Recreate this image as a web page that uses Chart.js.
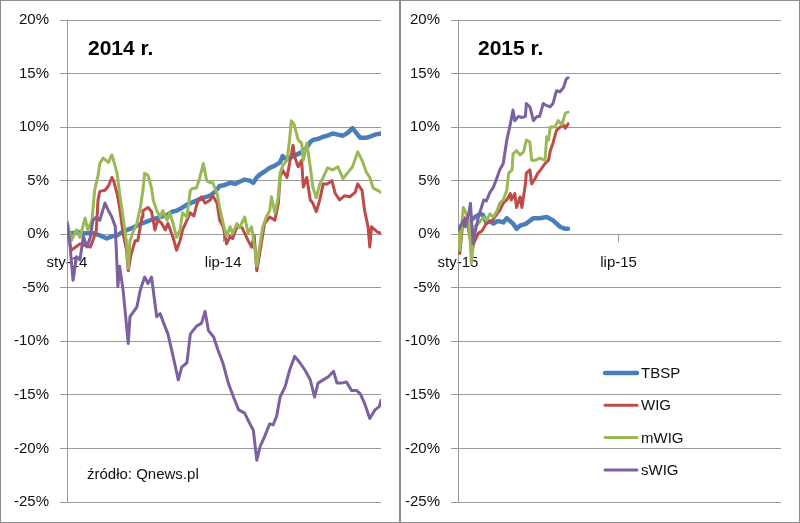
<!DOCTYPE html>
<html><head><meta charset="utf-8">
<script src="https://cdn.jsdelivr.net/npm/chart.js@4.4.1/dist/chart.umd.min.js"></script>
<style>
html,body{margin:0;padding:0;background:#fff;}
#wrap{position:relative;width:800px;height:523px;overflow:hidden;background:#fff;}
canvas{position:absolute;top:0;}
.frame{position:absolute;top:0;height:523px;border:1px solid #8c8c8c;box-sizing:border-box;pointer-events:none;}
</style></head><body>
<div id="wrap">
<canvas id="c1" width="400" height="523" style="left:0"></canvas>
<canvas id="c2" width="400" height="523" style="left:400px"></canvas>
<div class="frame" style="left:0;width:400px"></div>
<div class="frame" style="left:400px;width:400px"></div>
</div>
<script>
// ---- DATA (x = day of year, y = % change since start of year) ----
const seriesNames = ['TBSP', 'WIG', 'mWIG', 'sWIG'];
const panelTitles = ['2014 r.', '2015 r.'];
const sourceText = 'źródło: Qnews.pl';
const xTickDays = [0, 181];
const xTickLabels2014 = ['sty-14', 'lip-14'];
const xTickLabels2015 = ['sty-15', 'lip-15'];
const yMin = -25, yMax = 20, yStep = 5;

const tbsp2014 = [[0,-0.2],[6,0.1],[12,0.2],[20,0.1],[30,0.1],[38,-0.1],[46,-0.4],[52,-0.2],[58,-0.1],[64,0.2],[70,0.4],[76,0.6],[81,0.8],[87,1.0],[93,1.2],[100,1.4],[108,1.6],[116,1.8],[122,2.1],[127,2.2],[134,2.5],[140,2.8],[146,3.0],[152,3.2],[158,3.4],[166,3.6],[172,4.0],[177,4.5],[183,4.6],[189,4.8],[195,4.7],[200,4.9],[206,5.1],[212,5.0],[216,4.8],[220,5.3],[224,5.6],[230,5.9],[235,6.2],[241,6.4],[247,6.7],[250,7.3],[254,7.0],[258,7.1],[263,7.3],[268,7.5],[273,7.7],[278,8.1],[282,8.6],[285,8.8],[291,8.9],[297,9.1],[302,9.2],[308,9.4],[314,9.3],[320,9.2],[326,9.5],[331,9.9],[336,9.4],[340,9.0],[346,9.0],[351,9.1],[357,9.3],[364,9.4]];
const wig2014 = [[0,0.4],[5,-1.5],[15,-0.9],[27,-1.2],[30,-0.6],[34,0.4],[36,3.2],[38,4.0],[44,4.1],[48,4.5],[52,5.3],[54,5.0],[58,3.8],[61,2.5],[65,0.1],[69,-1.5],[71,-3.4],[74,-2.0],[79,-0.6],[82,-0.6],[87,1.6],[88,2.2],[94,2.5],[98,2.1],[102,0.4],[105,1.3],[109,1.1],[114,0.4],[117,1.0],[123,-0.3],[127,-1.5],[131,-0.6],[134,0.4],[139,1.3],[143,2.0],[147,1.7],[152,3.2],[156,3.5],[160,2.9],[166,3.2],[169,3.6],[174,2.9],[177,1.3],[181,0.7],[185,-0.9],[189,-0.2],[192,-0.4],[197,0.7],[203,0.6],[210,-0.6],[214,-1.2],[217,-0.1],[220,-3.4],[224,-1.5],[229,1.0],[235,1.6],[241,1.3],[245,2.9],[247,5.3],[250,6.0],[255,5.3],[258,6.6],[262,8.3],[264,7.2],[268,6.3],[272,6.9],[274,4.4],[278,5.3],[282,3.2],[285,2.9],[289,2.1],[293,3.2],[297,4.7],[302,4.7],[307,5.0],[311,3.8],[316,3.2],[322,3.6],[328,3.5],[334,3.9],[337,4.7],[342,4.1],[345,2.2],[349,0.7],[351,-1.2],[353,0.7],[357,0.4],[360,0.2],[364,0.1]];
const mwig2014 = [[0,1.3],[5,-0.6],[11,0.4],[15,-0.3],[21,1.5],[24,0.4],[29,1.3],[32,4.1],[36,5.5],[38,6.6],[42,7.1],[48,6.7],[52,7.4],[54,6.9],[58,5.7],[61,3.8],[65,1.6],[69,-0.8],[71,-3.2],[73,-0.6],[76,0.1],[81,1.0],[85,2.5],[88,4.1],[90,5.7],[94,5.5],[98,4.3],[100,3.2],[104,2.2],[108,1.6],[111,2.2],[116,1.3],[119,2.0],[123,1.0],[127,-0.3],[131,0.4],[134,2.0],[139,1.6],[143,4.1],[146,4.3],[150,4.3],[154,5.3],[158,6.6],[162,5.0],[166,4.8],[169,4.8],[174,3.8],[177,2.5],[181,1.0],[185,-0.2],[189,0.7],[192,0.1],[197,1.0],[200,0.6],[206,1.6],[210,0.1],[214,0.7],[218,-1.5],[220,-3.0],[224,-0.8],[227,0.7],[231,1.6],[235,2.2],[237,3.5],[241,2.0],[245,3.5],[247,5.7],[250,6.4],[255,6.9],[258,8.8],[260,10.6],[263,10.3],[268,8.8],[272,8.5],[274,6.9],[278,8.5],[282,6.3],[285,4.4],[289,3.4],[293,4.7],[297,5.3],[302,6.2],[308,6.0],[314,6.3],[320,5.2],[326,5.8],[331,6.3],[337,7.7],[342,6.9],[347,5.8],[351,5.3],[355,4.3],[360,4.1],[364,3.9]];
const swig2014 = [[0,1.0],[3,-0.6],[7,-4.3],[11,-2.1],[15,-2.4],[19,-0.2],[23,-1.2],[27,-0.3],[30,1.3],[34,1.6],[38,1.3],[44,2.9],[48,2.2],[52,1.6],[56,0.7],[59,-4.9],[61,-3.0],[65,-5.2],[71,-10.2],[73,-7.7],[81,-6.8],[85,-5.2],[90,-4.0],[94,-4.6],[98,-4.0],[104,-7.7],[108,-7.4],[112,-8.3],[117,-9.3],[123,-11.4],[129,-13.6],[133,-12.4],[139,-12.0],[143,-9.3],[150,-8.6],[156,-8.3],[160,-7.2],[164,-9.0],[170,-9.6],[175,-10.8],[181,-12.1],[187,-13.9],[193,-15.2],[199,-16.4],[206,-16.7],[212,-17.7],[216,-18.3],[220,-21.1],[224,-19.8],[229,-18.9],[235,-17.7],[239,-17.8],[243,-17.0],[247,-15.2],[253,-14.2],[258,-12.7],[264,-11.4],[270,-12.0],[276,-12.7],[282,-13.6],[287,-15.2],[291,-13.9],[297,-13.6],[303,-13.3],[309,-12.8],[313,-13.9],[318,-13.9],[324,-13.8],[330,-14.6],[336,-14.6],[340,-14.9],[345,-15.8],[351,-17.2],[357,-16.4],[362,-16.1],[364,-15.5]];

const tbsp2015 = [[0,0.4],[6,1.0],[14,1.3],[19,1.6],[25,1.9],[28,1.8],[32,1.1],[36,1.2],[40,1.0],[44,1.2],[47,1.2],[51,1.1],[55,1.5],[59,1.2],[62,1.0],[66,0.5],[70,0.8],[77,1.0],[85,1.5],[92,1.5],[100,1.6],[107,1.3],[111,1.0],[115,0.7],[121,0.5],[124,0.5]];
const wig2015 = [[0,0.4],[2,-1.8],[6,1.6],[10,1.3],[14,-0.6],[16,-1.5],[18,-0.8],[23,0.1],[27,0.3],[32,1.0],[38,1.2],[44,1.9],[47,2.2],[51,2.9],[55,3.2],[59,3.8],[60,3.2],[64,3.8],[66,2.5],[70,3.5],[72,2.5],[76,4.7],[77,5.7],[81,6.0],[83,4.7],[87,5.2],[90,5.7],[94,6.1],[98,6.6],[102,6.9],[104,7.8],[107,8.5],[111,9.7],[115,10.0],[119,10.2],[121,9.9],[124,10.3]];
const mwig2015 = [[0,0.4],[2,-1.5],[6,2.5],[8,2.2],[12,1.3],[14,-0.9],[15,-2.7],[17,-1.0],[19,0.7],[23,1.0],[29,1.6],[32,1.3],[36,1.9],[40,1.6],[44,2.2],[47,2.9],[51,3.2],[55,4.1],[57,5.7],[61,6.0],[62,7.5],[66,7.8],[70,7.4],[74,7.7],[77,8.8],[81,8.6],[83,6.9],[87,6.9],[92,7.1],[98,6.9],[100,9.1],[102,8.8],[104,10.0],[109,10.0],[113,10.6],[117,10.2],[121,11.3],[124,11.4]];
const swig2015 = [[0,0.4],[2,0.6],[6,1.3],[8,0.7],[12,1.9],[14,2.9],[17,-0.9],[19,0.1],[23,1.6],[29,3.2],[32,3.1],[36,3.9],[40,4.4],[44,5.3],[47,6.0],[51,6.6],[55,8.8],[59,10.3],[62,11.6],[64,10.6],[68,11.0],[72,10.9],[76,11.0],[77,12.2],[81,11.9],[85,10.6],[89,11.0],[92,11.0],[96,12.2],[100,12.0],[104,11.9],[107,12.2],[111,13.4],[115,13.3],[119,13.7],[122,14.5],[124,14.6]];

// ---- STYLE ----
const seriesColors = ['#4A7EBB', '#BE4B48', '#98B954', '#7D60A0'];
const seriesWidths = [4.5, 3, 3, 3];
const FONT = '"Liberation Sans", Arial, sans-serif';
const GRID = '#9a9a9a';

function toXY(arr) { return arr.map(p => ({x: p[0], y: p[1]})); }

const panelTextPlugin = {
  id: 'panelText',
  afterDraw(chart, args, opts) {
    const ctx = chart.ctx;
    ctx.save();
    ctx.fillStyle = '#000';
    ctx.textBaseline = 'alphabetic';
    ctx.textAlign = 'left';
    ctx.font = 'bold 21px ' + FONT;
    ctx.fillText(opts.title, opts.titleX, 55);
    if (opts.source) {
      ctx.font = '15px ' + FONT;
      ctx.fillStyle = '#111';
      ctx.fillText(opts.source, opts.sourceX, 479);
    }
    if (opts.legend) {
      ctx.font = '15px ' + FONT;
      ctx.textBaseline = 'middle';
      seriesNames.forEach((n, i) => {
        const y = 373 + i * 32.3;
        ctx.strokeStyle = seriesColors[i];
        ctx.lineWidth = seriesWidths[i];
        ctx.lineCap = 'round';
        ctx.beginPath(); ctx.moveTo(205, y); ctx.lineTo(237, y); ctx.stroke();
        ctx.fillStyle = '#111';
        ctx.fillText(n, 241, y + 1);
      });
    }
    ctx.restore();
  }
};

function makeChart(id, seriesData, tickLabels, yAxisWidth, textOpts) {
  const datasets = seriesData.map((d, i) => ({
    label: seriesNames[i],
    data: toXY(d),
    borderColor: seriesColors[i],
    backgroundColor: seriesColors[i],
    borderWidth: seriesWidths[i],
    pointRadius: 0,
    tension: 0,
    fill: false,
    borderJoinStyle: 'round',
    borderCapStyle: 'round',
    order: 4 - i
  }));
  return new Chart(document.getElementById(id), {
    type: 'line',
    data: {datasets},
    plugins: [panelTextPlugin],
    options: {
      responsive: false,
      animation: false,
      events: [],
      layout: {padding: {left: 0, right: 19, top: 20, bottom: 21}},
      plugins: {legend: {display: false}, tooltip: {enabled: false}, panelText: textOpts},
      scales: {
        x: {
          type: 'linear', min: 0, max: 364,
          position: {y: 0},
          afterBuildTicks: s => { s.ticks = xTickDays.map(v => ({value: v})); },
          ticks: {
            autoSkip: false, maxRotation: 0, padding: 13,
            color: '#111', font: {family: FONT, size: 15},
            callback: (v) => tickLabels[xTickDays.indexOf(v)]
          },
          grid: {drawOnChartArea: false, drawTicks: true, tickLength: 7, color: GRID},
          border: {display: true, color: GRID}
        },
        y: {
          type: 'linear', min: yMin, max: yMax,
          afterFit: s => { s.width = yAxisWidth; },
          ticks: {
            stepSize: yStep, padding: 11,
            color: '#111', font: {family: FONT, size: 15},
            callback: v => v + '%'
          },
          grid: {color: GRID, tickLength: 7, lineWidth: 1},
          border: {display: true, color: GRID}
        }
      }
    }
  });
}

makeChart('c1', [tbsp2014, wig2014, mwig2014, swig2014], xTickLabels2014, 67,
  {title: panelTitles[0], titleX: 88, source: sourceText, sourceX: 87, legend: false});
makeChart('c2', [tbsp2015, wig2015, mwig2015, swig2015], xTickLabels2015, 58,
  {title: panelTitles[1], titleX: 78, source: null, legend: true});
</script>
</body></html>
